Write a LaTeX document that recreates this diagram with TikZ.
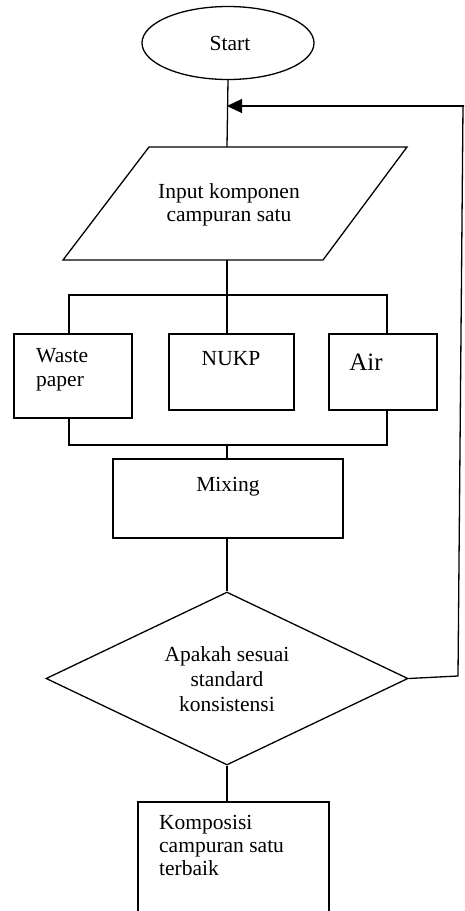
\documentclass[tikz,border=0pt]{standalone}
\usepackage{fontspec}
\setmainfont{Liberation Serif}
\usetikzlibrary{shapes.geometric,arrows.meta}
\begin{document}
\begin{tikzpicture}[x=1pt,y=-1pt,
  every node/.style={font=\fontsize{21.5}{24}\selectfont},
  ln/.style={line width=1.3pt},
  box/.style={draw,line width=1.3pt,rectangle,inner sep=0pt},
  txt/.style={inner sep=0pt,align=center}]
\useasboundingbox (0,0) rectangle (464,911);
\clip (0,0) rectangle (464,911);
% start
\node[draw,ln,ellipse,minimum width=172pt,minimum height=73pt,inner sep=0pt] (start) at (228,43) {};
\node[txt] (starttxt) at (230,43) {Start};
% input parallelogram
\coordinate (pa) at (149,147);
\coordinate (pb) at (407,147);
\coordinate (pc) at (323,260);
\coordinate (pd) at (63,260);
\draw[ln,line join=miter] (pa) -- (pb) -- (pc) -- (pd) -- cycle;
\node[txt,font=\fontsize{21.5}{23}\selectfont] (intxt) at (229,205) {Input komponen\\campuran satu};
\coordinate (intop) at (227,147);
\coordinate (inbot) at (227,260);
\coordinate (arr) at (227,106);
\draw[ln] (start.south) -- (intop);
% boxes
\node[box,minimum width=118pt,minimum height=84pt] (waste) at (73,376) {};
\node[txt,align=left,anchor=west,font=\fontsize{21.5}{24}\selectfont] (wastetxt) at (36,370) {Waste\\paper};
\node[box,minimum width=125pt,minimum height=76pt] (nukp) at (231.5,372) {};
\node[txt] (nukptxt) at (231,359) {NUKP};
\node[box,minimum width=108pt,minimum height=76pt] (air) at (383,372) {};
\node[txt,font=\fontsize{25}{28}\selectfont] (airtxt) at (366,362) {Air};
\coordinate (tl) at (69,295);
\coordinate (tm) at (227,295);
\coordinate (tr) at (387,295);
\coordinate (bl) at (69,445);
\coordinate (bm) at (227,445);
\coordinate (br) at (387,445);
\draw[ln] (inbot) -- (tm);
\draw[ln] (tl |- waste.north) -- (tl) -- (tr) -- (tr |- air.north);
\draw[ln] (tm) -- (tm |- nukp.north);
\draw[ln] (bl |- waste.south) -- (bl) -- (br) -- (br |- air.south);
% mixing
\node[box,minimum width=230pt,minimum height=79pt] (mix) at (228,498.5) {};
\node[txt] (mixtxt) at (228,487) {Mixing};
\draw[ln] (bm) -- (bm |- mix.north);
% decision
\node[draw,ln,diamond,minimum width=362pt,minimum height=173pt,inner sep=0pt] (dec) at (227,678.5) {};
\node[txt,font=\fontsize{21.5}{25}\selectfont] (dectxt) at (227,679) {Apakah sesuai\\standard\\konsistensi};
\draw[ln] (mix.south -| dec.north) -- (dec.north);
% loop back
\coordinate (lr1) at (458,676);
\coordinate (lr2) at (463,106);
\coordinate (lr3) at (466,106);
\draw[ln] (dec.east) -- (lr1) -- (lr2);
\draw[ln,-{Triangle[length=15pt,width=14pt]}] (lr3) -- (arr);
% result
\node[box,minimum width=191pt,minimum height=140pt] (res) at (233.5,872) {};
\node[txt,align=left,anchor=north west,font=\fontsize{21.5}{23}\selectfont] (restxt) at (159,815) {Komposisi\\campuran satu\\terbaik};
\draw[ln] (dec.south) -- (dec.south |- res.north);
\end{tikzpicture}
\end{document}
